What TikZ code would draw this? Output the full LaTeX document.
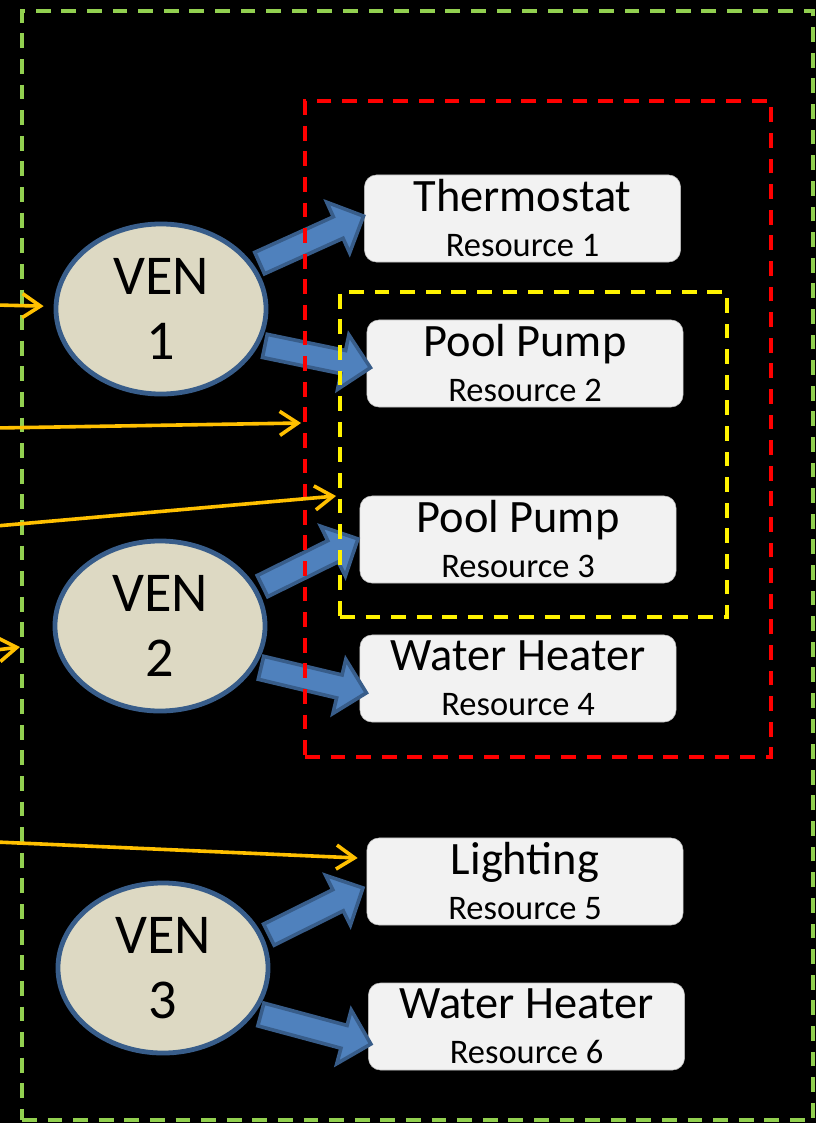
\documentclass[tikz,border=0pt]{standalone}
\usepackage{fontspec}
\setmainfont{Carlito}
\usetikzlibrary{arrows.meta,shapes.geometric,shapes.arrows,calc}

\definecolor{framegreen}{HTML}{92D050}
\definecolor{venfill}{HTML}{DDD9C3}
\definecolor{venline}{HTML}{385D8A}
\definecolor{arrowfill}{HTML}{4F81BD}
\definecolor{feedorange}{HTML}{FFC000}
\definecolor{boxfill}{HTML}{F2F2F2}

% small second line of a resource box
\newcommand{\resline}[1]{{\fontsize{24.5}{32}\selectfont #1}}
% fat arrow from a VEN to one of its resources
\newcommand{\venarrow}[3]{%
  \path let \p1 = ($(#3)-(#2)$), \n1 = {atan2(\y1,\x1)}, \n2 = {veclen(\x1,\y1)} in
    node[blkarr, rotate=\n1, minimum height=\n2] (#1) at ($(#2)!0.5!(#3)$) {};}

\begin{document}
\begin{tikzpicture}[x=0.025cm, y=-0.025cm]
  \tikzstyle{ven} = [ellipse, draw=venline, fill=venfill, line width=0.12cm,
                     minimum width=5.25cm, minimum height=4.25cm, inner sep=0,
                     align=center, font=\fontsize{40}{46}\selectfont]
  \tikzstyle{res} = [draw=black!25, fill=boxfill, rounded corners=0.3cm,
                     minimum width=7.9cm, minimum height=2.175cm, inner sep=0,
                     align=center, font=\fontsize{33}{32}\selectfont]
  \tikzstyle{blkarr} = [single arrow, draw=venline, fill=arrowfill, line width=0.09cm,
                        inner xsep=0, inner ysep=0.25cm, single arrow head extend=0.4cm]
  \tikzstyle{grp} = [line width=0.095cm, dash pattern=on 0.37cm off 0.27cm,
                     inner sep=0]
  \tikzstyle{feed} = [draw=feedorange, line width=0.09cm,
                      -{Straight Barb[length=0.45cm, width=0.6cm]}]

  \path[use as bounding box, fill=black] (0,0) rectangle (816,1123);

  % VENs
  \node[ven] (ven1) at (161,309) {VEN\\1};
  \node[ven] (ven2) at (160,626) {VEN\\2};
  \node[ven] (ven3) at (163,968) {VEN\\3};

  % resources
  \node[res] (thermo) at (522.5,218.5) {Thermostat\\\resline{Resource 1}};
  \node[res] (pump2)  at (525,363.5)   {Pool Pump\\\resline{Resource 2}};
  \node[res] (pump3)  at (518,539.5)   {Pool Pump\\\resline{Resource 3}};
  \node[res] (heat4)  at (518,678.5)   {Water Heater\\\resline{Resource 4}};
  \node[res] (light5) at (525,881.5)   {Lighting\\\resline{Resource 5}};
  \node[res] (heat6)  at (526.5,1026.5) {Water Heater\\\resline{Resource 6}};

  % fat arrows
  \coordinate (t1) at ($(thermo.west)+(-6,0)$);
  \coordinate (t2) at ($(pump2.west)+(-2,3)$);
  \coordinate (t3) at ($(pump3.west)+(-7,2)$);
  \coordinate (t4) at ($(heat4.west)+(1,13)$);
  \coordinate (t5) at ($(light5.west)+(-9,9)$);
  \coordinate (t6) at ($(heat6.west)+(-3,16)$);
  \venarrow{a1}{ven1.25}{t1}
  \venarrow{a2}{ven1.-20}{t2}
  \venarrow{a3}{ven2.21}{t3}
  \venarrow{a4}{ven2.-23}{t4}
  \venarrow{a5}{ven3.17}{t5}
  \venarrow{a6}{ven3.-26}{t6}

  % groups
  \node[grp, draw=framegreen, minimum width=19.775cm, minimum height=27.725cm]
    (outer) at (417.5,565.5) {};
  \node[grp, draw=red, minimum width=11.65cm, minimum height=16.4cm]
    (redgrp) at (538,429) {};
  \node[grp, draw=yellow, minimum width=9.675cm, minimum height=8.125cm]
    (yelgrp) at (533.5,454.5) {};

  % incoming signals from the left
  \coordinate (in1) at (-4,305);
  \coordinate (in2) at (-4,428);
  \coordinate (in3) at (-4,526);
  \coordinate (in4) at (-4,650);
  \coordinate (in5) at (-4,842);
  \coordinate (e2) at ($(redgrp.west)+(-2,-6)$);
  \coordinate (e3) at ($(yelgrp.west)+(-2,41.5)$);
  \coordinate (e4) at ($(outer.west)+(0,81.5)$);
  \coordinate (e5) at ($(light5.west)+(-9,-23.5)$);
  \draw[feed, shorten >=0.25cm] (in1) -- (ven1);
  \draw[feed] (in2) -- (e2);
  \draw[feed] (in3) -- (e3);
  \draw[feed] (in4) -- (e4);
  \draw[feed] (in5) -- (e5);
\end{tikzpicture}
\end{document}
